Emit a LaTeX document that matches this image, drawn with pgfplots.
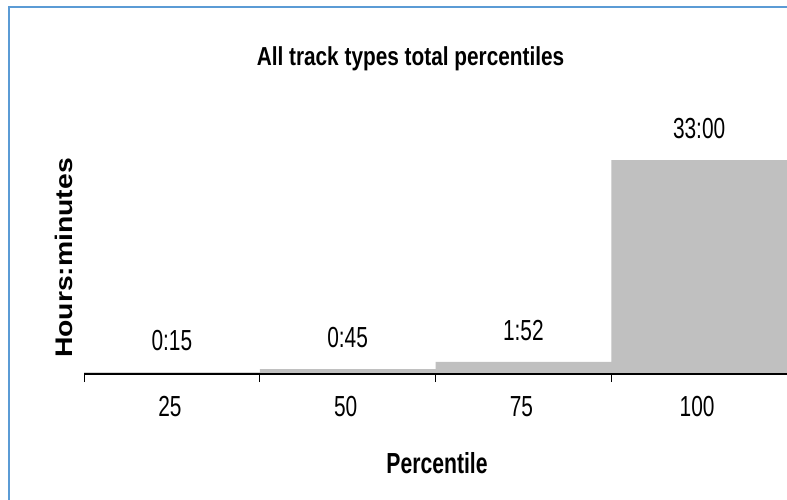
\documentclass[border=0pt]{standalone}
\usepackage{pgfplots}
\pgfplotsset{compat=1.18}
\usepackage{fontspec}
\setmainfont{Liberation Sans}[FakeStretch=0.72]
\newfontfamily\titlefont{Liberation Sans}[FakeStretch=0.8]
\newfontfamily\labfont{Liberation Sans}[FakeStretch=0.73]
\newfontfamily\widefont{Liberation Sans}
\definecolor{framecol}{RGB}{91,155,213}
\definecolor{barg}{RGB}{192,192,192}
\begin{document}
\begin{tikzpicture}
\path[use as bounding box] (0,0) rectangle (787pt,499pt);
\fill[white] (0,0) rectangle (787pt,499pt);
\draw[framecol, line width=2pt] (9pt,-10pt) -- (9pt,492pt) -- (800pt,492pt);
\begin{axis}[
  at={(84pt,125pt)}, anchor=south west,
  scale only axis, width=703pt, height=214pt,
  xmin=-0.5, xmax=3.5, ymin=0, ymax=33,
  axis x line=bottom, axis y line=none,
  axis line style={-, black, line width=1.5pt},
  axis on top,
  clip=false,
  xtick={0,1,2,3}, xticklabels={25,50,75,100},
  major tick length=0pt,
  extra x ticks={-0.5,0.5,1.5,2.5,3.5},
  extra x tick labels={},
  extra x tick style={major tick length=8pt, tick align=outside, tick style={black, line width=1pt}},
  xticklabel style={font=\fontsize{29}{32}\selectfont, anchor=base, inner sep=0pt, yshift=-42pt, xshift=-2pt},
  /pgf/number format/assume math mode=true,
]
\addplot[ybar, bar width=1, fill=barg, draw=none,
  nodes near coords, point meta=explicit symbolic,
  nodes near coords style={font=\fontsize{29}{32}\selectfont, anchor=south, inner sep=0pt, yshift=21pt}]
table[meta=lab] {
x y lab
0 0.25 0:15
1 0.75 0:45
2 1.8667 1:52
3 33 33:00
};
\end{axis}
\node[font=\titlefont\bfseries\fontsize{26}{30}\selectfont, anchor=base] at (410.5pt,433.3pt) {All track types total percentiles};
\node[font=\labfont\bfseries\fontsize{29}{32}\selectfont, anchor=base] at (437pt,26pt) {Percentile};
\node[rotate=90, inner sep=0pt, font=\widefont\bfseries\fontsize{24}{28}\selectfont] at (63.5pt,241pt) {\scalebox{1.18}[1]{Hours:minutes}};
\end{tikzpicture}
\end{document}
